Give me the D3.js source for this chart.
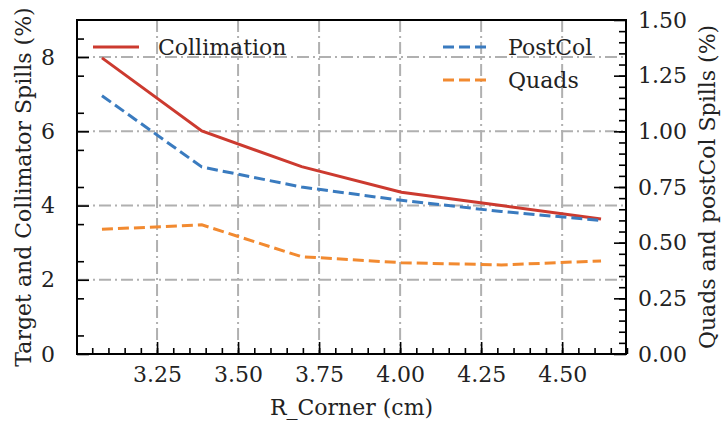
<!DOCTYPE html>
<html lang="en">
<head>
<meta charset="UTF-8">
<title>Spills vs R_Corner</title>
<style>
  body { margin: 0; background: #fff; }
  svg text { font-family: "DejaVu Serif", serif; fill: #222; }
</style>
</head>
<body>
<svg id="chart" width="722" height="424"></svg>
<script src="https://d3js.org/d3.v7.min.js"></script>
<script>
// data
var rCorner = [3.08, 3.388, 3.696, 4.004, 4.312, 4.62];
var collimation = [7.98, 6.01, 5.05, 4.36, 4.0, 3.64];   // left axis (%)
var postCol = [1.16, 0.84, 0.75, 0.69, 0.64, 0.60];       // right axis (%)
var quads = [0.56, 0.58, 0.437, 0.41, 0.40, 0.418];       // right axis (%)

var xTicks = [3.25, 3.50, 3.75, 4.00, 4.25, 4.50];
var yLeftTicks = [0, 2, 4, 6, 8];
var yRightTicks = [0, 0.25, 0.5, 0.75, 1.0, 1.25, 1.5];

var FS = 22;

var svg = d3.select("#chart"),
    m = {left: 77, right: 96, top: 20, bottom: 70},
    W = 722 - m.left - m.right,
    H = 424 - m.top - m.bottom;

var x = d3.scaleLinear().domain([3.003, 4.697]).range([0, W]),
    yL = d3.scaleLinear().domain([0, 9]).range([H, 0]),
    yR = d3.scaleLinear().domain([0, 1.5]).range([H, 0]);

var g = svg.append("g").attr("transform", "translate(" + m.left + "," + m.top + ")");

// grid
var grid = g.append("g").attr("stroke", "#b0b0b0").attr("stroke-width", 2)
  .attr("stroke-dasharray", "12,4,2,4");
xTicks.forEach(function (t) {
  grid.append("line").attr("x1", x(t)).attr("x2", x(t)).attr("y1", 0).attr("y2", H);
});
yLeftTicks.forEach(function (t) {
  if (t === 0) return;
  grid.append("line").attr("x1", 0).attr("x2", W).attr("y1", yL(t)).attr("y2", yL(t));
});

// lines
function drawLine(vals, scale, color, dash) {
  var line = d3.line().x(function (d, i) { return x(rCorner[i]); }).y(function (d) { return scale(d); });
  g.append("path").datum(vals).attr("d", line).attr("fill", "none")
    .attr("stroke", color).attr("stroke-width", 3).attr("stroke-dasharray", dash);
}
drawLine(collimation, yL, "#cc3a2f", null);
drawLine(postCol, yR, "#3a7bbf", "11,5");
drawLine(quads, yR, "#f28a30", "11,5");

// axes, ticks drawn inward
function styleAxis(sel) {
  sel.select(".domain").remove();
  sel.selectAll("line").attr("stroke", "#000").attr("stroke-width", 1.6);
  sel.selectAll("text").attr("font-size", FS).style("font-family", "DejaVu Serif");
}
g.append("g").attr("transform", "translate(0," + H + ")")
  .call(d3.axisBottom(x).tickValues(d3.range(3.05, 4.70, 0.05)).tickSize(-6).tickFormat(""))
  .call(styleAxis);
g.append("g").attr("transform", "translate(0," + H + ")")
  .call(d3.axisBottom(x).tickValues(xTicks).tickSize(-12).tickPadding(12).tickFormat(d3.format(".2f")))
  .call(styleAxis);
g.append("g")
  .call(d3.axisLeft(yL).tickValues(d3.range(0.5, 9, 1)).tickSize(-7).tickFormat(""))
  .call(styleAxis);
g.append("g")
  .call(d3.axisLeft(yL).tickValues(yLeftTicks).tickSize(-12).tickPadding(22))
  .call(styleAxis);
g.append("g").attr("transform", "translate(" + W + ",0)")
  .call(d3.axisRight(yR).tickValues(d3.range(0.05, 1.5, 0.05)).tickSize(-7).tickFormat(""))
  .call(styleAxis);
g.append("g").attr("transform", "translate(" + W + ",0)")
  .call(d3.axisRight(yR).tickValues(yRightTicks).tickSize(-12).tickPadding(12).tickFormat(d3.format(".2f")))
  .call(styleAxis);

// frame
g.append("rect").attr("width", W).attr("height", H).attr("fill", "none")
  .attr("stroke", "#000").attr("stroke-width", 2);

// labels
svg.append("text").attr("x", m.left + W / 2).attr("y", 415).attr("text-anchor", "middle")
  .attr("font-size", FS).text("R_Corner (cm)");
svg.append("text").attr("transform", "translate(31," + (m.top + H / 2) + ") rotate(-90)")
  .attr("text-anchor", "middle").attr("font-size", FS).text("Target and Collimator Spills (%)");
svg.append("text").attr("transform", "translate(715," + (m.top + H / 2) + ") rotate(-90)")
  .attr("text-anchor", "middle").attr("font-size", FS).text("Quads and postCol Spills (%)");

// legends
var legL = [{name: "Collimation", color: "#cc3a2f", dash: null, lx: 16, ly: 27}];
var legR = [{name: "PostCol", color: "#3a7bbf", dash: "11,5", lx: 366, ly: 27},
            {name: "Quads", color: "#f28a30", dash: "11,5", lx: 366, ly: 60}];
legL.concat(legR).forEach(function (d) {
  g.append("line").attr("x1", d.lx).attr("x2", d.lx + 46).attr("y1", d.ly).attr("y2", d.ly)
    .attr("stroke", d.color).attr("stroke-width", 3).attr("stroke-dasharray", d.dash);
  g.append("text").attr("x", d.lx + 65).attr("y", d.ly + 8).attr("font-size", FS).text(d.name);
});
</script>
</body>
</html>
